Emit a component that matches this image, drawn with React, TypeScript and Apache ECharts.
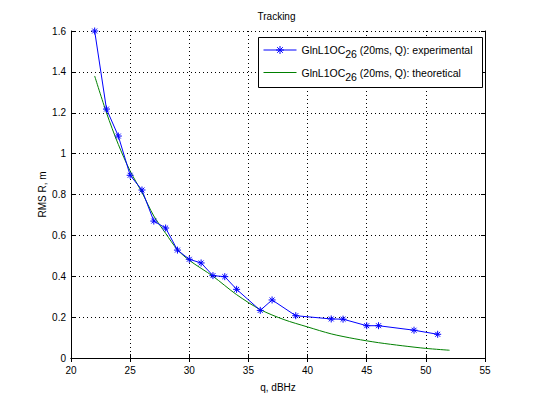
import React, { useEffect, useRef } from "react";
import * as echarts from "echarts";

const titleText = "Tracking";
const xName = "q, dBHz";
const yName = "RMS R, m";

const qExp = [22, 23, 24, 25, 26, 27, 28, 29, 30, 31, 32, 33, 34, 36, 37, 39, 42, 43, 45, 46, 49, 51];
const rmsExp = [1.6, 1.218, 1.086, 0.894, 0.822, 0.67, 0.636, 0.528, 0.483, 0.465, 0.403, 0.398, 0.336, 0.233, 0.284, 0.207, 0.191, 0.19, 0.158, 0.158, 0.136, 0.116];

const qTheo = [22, 23, 24, 25, 26, 27, 28, 29, 30, 32, 34, 36, 38, 40, 42, 44, 46, 48, 50, 52];
const rmsTheo = [1.38, 1.2, 1.045, 0.915, 0.81, 0.695, 0.61, 0.53, 0.478, 0.4, 0.31, 0.237, 0.188, 0.152, 0.118, 0.094, 0.075, 0.06, 0.047, 0.038];

const seriesNames = ["experimental", "theoretical"];
const legendPrefix = "GlnL1OC";
const legendSub = "26";
const legendMid = " (20ms, Q): ";

const FONT = "'Liberation Sans', Arial, Helvetica, sans-serif";
const STAR = "path://M5,0L5,10M0,5L10,5M1.5,1.5L8.5,8.5M1.5,8.5L8.5,1.5";
const LF = 10.5;

export default function App() {
  const ref = useRef<HTMLDivElement>(null);
  useEffect(() => {
    if (!ref.current) return;
    const chart = echarts.init(ref.current, undefined, { renderer: "svg" });
    const axisCommon = {
      axisLine: { show: true, lineStyle: { color: "#000", width: 1 } },
      axisTick: { show: true, inside: true, length: 4, lineStyle: { color: "#000" } },
    };
    chart.setOption({
      animation: false,
      backgroundColor: "#fff",
      textStyle: { fontFamily: FONT },
      title: {
        text: titleText,
        left: 276.5,
        top: 11,
        padding: 0,
        textAlign: "center",
        textStyle: { fontSize: 10, fontWeight: "normal", color: "#000", fontFamily: FONT },
      },
      grid: { left: 71, right: 51, top: 31, bottom: 44, containLabel: false },
      legend: {
        left: 263,
        top: 44,
        padding: 0,
        orient: "vertical",
        itemGap: 7,
        itemWidth: 33,
        itemHeight: 10,
        z: 20,
        lineStyle: { width: 1 },
        data: [
          { name: seriesNames[0], itemStyle: { borderWidth: 1, borderColor: "#0000ff", color: "#0000ff" } },
          { name: seriesNames[1], itemStyle: { opacity: 0 } },
        ],
        formatter: (name: string) =>
          `{a|${legendPrefix}}{s|${legendSub}}{a|${legendMid}${name}}`,
        textStyle: {
          color: "#000",
          fontFamily: FONT,
          fontSize: LF,
          rich: {
            a: { fontSize: LF, fontFamily: FONT, color: "#000", lineHeight: 12, verticalAlign: "middle" },
            s: { fontSize: LF, fontFamily: FONT, color: "#000", lineHeight: 12, padding: [4.5, 0, 0, 0], verticalAlign: "top" },
          },
        },
      },
      graphic: [
        {
          type: "rect",
          z: 10,
          shape: { x: 258.5, y: 37.5, width: 224, height: 50 },
          style: { fill: "#fff", stroke: "#000", lineWidth: 1 },
        },
      ],
      xAxis: [
        {
          type: "value",
          min: 20,
          max: 55,
          interval: 5,
          position: "bottom",
          name: xName,
          nameLocation: "middle",
          nameGap: 24,
          nameMoveOverlap: false,
          nameTextStyle: { color: "#000", fontSize: 10, fontFamily: FONT },
          ...axisCommon,
          axisLabel: { color: "#000", fontSize: 10, margin: 7, fontFamily: FONT },
          splitLine: { show: true, lineStyle: { color: "#000", type: [1, 3], width: 1 } },
        },
        {
          type: "value",
          min: 20,
          max: 55,
          interval: 5,
          position: "top",
          ...axisCommon,
          axisLabel: { show: false },
          splitLine: { show: false },
        },
      ],
      yAxis: [
        {
          type: "value",
          min: 0,
          max: 1.6,
          interval: 0.2,
          position: "left",
          name: yName,
          nameLocation: "middle",
          nameGap: 24,
          nameMoveOverlap: false,
          nameTextStyle: { color: "#000", fontSize: 10, fontFamily: FONT },
          ...axisCommon,
          axisLabel: { color: "#000", fontSize: 10, margin: 5, fontFamily: FONT },
          splitLine: { show: true, lineStyle: { color: "#000", type: [1, 3], width: 1 } },
        },
        {
          type: "value",
          min: 0,
          max: 1.6,
          interval: 0.2,
          position: "right",
          ...axisCommon,
          axisLabel: { show: false },
          splitLine: { show: false },
        },
      ],
      series: [
        {
          name: seriesNames[0],
          type: "line",
          xAxisIndex: 0,
          yAxisIndex: 0,
          data: qExp.map((q, i) => [q, rmsExp[i]]),
          symbol: STAR,
          symbolSize: 7,
          showAllSymbol: true,
          lineStyle: { color: "#0000ff", width: 1 },
          itemStyle: { color: "#0000ff", borderColor: "#0000ff", borderWidth: 1 },
          z: 3,
        },
        {
          name: seriesNames[1],
          type: "line",
          xAxisIndex: 0,
          yAxisIndex: 0,
          data: qTheo.map((q, i) => [q, rmsTheo[i]]),
          showSymbol: false,
          symbol: "none",
          smooth: 0.3,
          lineStyle: { color: "#008000", width: 1 },
          itemStyle: { color: "#008000" },
          z: 2,
        },
      ],
    });
    return () => chart.dispose();
  }, []);
  return (
    <div
      ref={ref}
      style={{ position: "fixed", left: 0, top: 0, width: 536, height: 402, background: "#fff" }}
    />
  );
}
